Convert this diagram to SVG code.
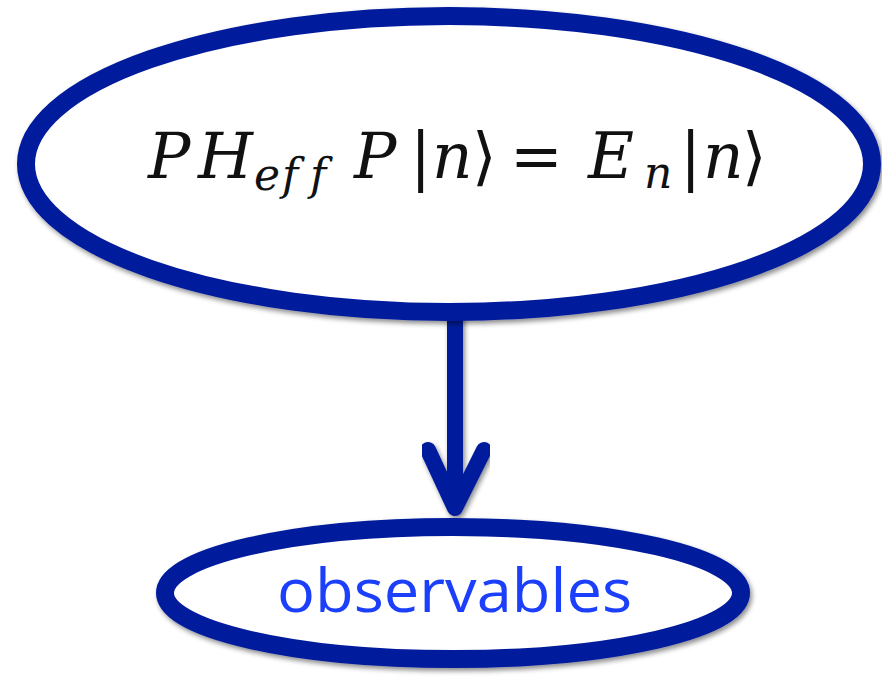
<svg xmlns="http://www.w3.org/2000/svg" width="882" height="679" viewBox="0 0 882 679">
<defs>
<filter id="sh" x="-10%" y="-10%" width="120%" height="130%">
<feDropShadow dx="2" dy="3" stdDeviation="2.5" flood-color="#000" flood-opacity="0.45"/>
</filter>
</defs>
<style>
.node{fill:#fff;stroke:#061b9c;stroke-width:18;filter:url(#sh)}
.con{fill:none;stroke:#061b9c;stroke-width:16;stroke-linecap:round;stroke-linejoin:round;filter:url(#sh)}
.m{font-family:"DejaVu Serif","Liberation Serif",serif;fill:#111}
.i{font-style:italic}
.s{font-size:44px}
.lbl{font-family:"Open Sans","Liberation Sans",sans-serif;font-size:60px;fill:#1b3ffb}
</style>
<rect width="882" height="679" fill="#fff"/>
<g id="connectors">
<path class="con" d="M455,305 L455,508 M428,450 L455,508 L484,450"/>
</g>
<g id="node-eq">
<ellipse class="node" cx="449" cy="164" rx="423" ry="148"/>
<text class="m" font-size="63" y="178">
<tspan class="i" x="148">P</tspan><tspan class="i" x="198">H</tspan><tspan class="i s" x="254" y="190">e</tspan><tspan class="i s" x="282" y="190">f</tspan><tspan class="i s" x="310" y="190">f</tspan><tspan class="i" x="354" y="178">P</tspan><tspan x="410">|</tspan><tspan class="i" x="432">n</tspan><tspan x="472">⟩</tspan><tspan x="510">=</tspan><tspan class="i" x="588">E</tspan><tspan class="i s" x="644" y="188">n</tspan><tspan x="680" y="178">|</tspan><tspan class="i" x="703">n</tspan><tspan x="742">⟩</tspan>
</text>
</g>
<g id="node-obs">
<ellipse class="node" cx="453" cy="593" rx="288" ry="66"/>
<text class="lbl" x="277" y="612" textLength="355" lengthAdjust="spacingAndGlyphs">observables</text>
</g>
</svg>
